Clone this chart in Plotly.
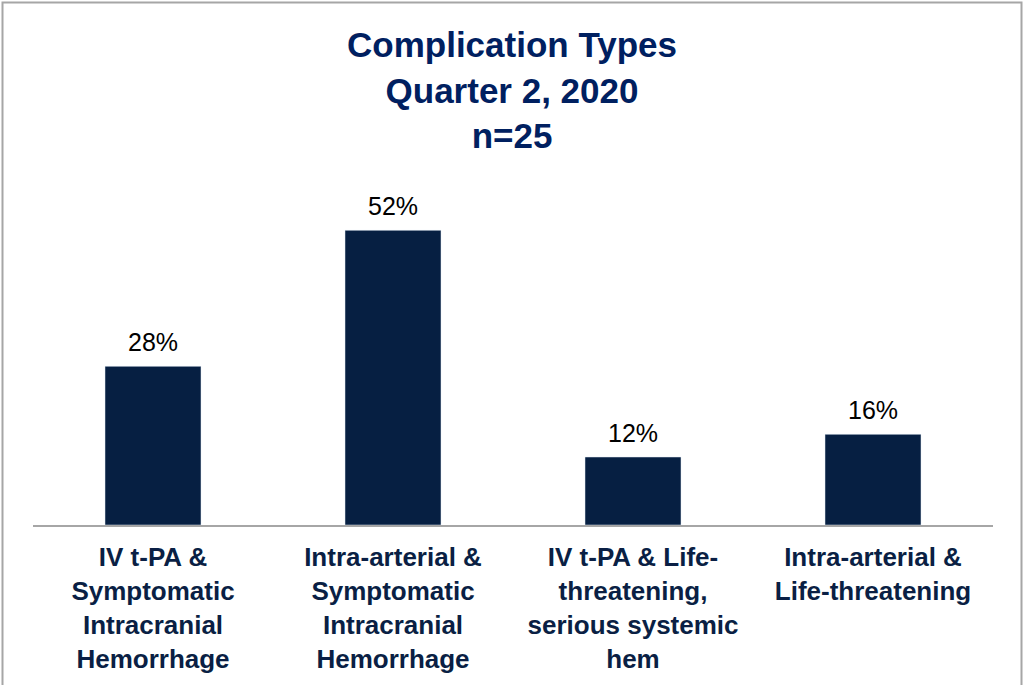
import plotly.graph_objects as go

categories = [
    "IV t-PA &<br>Symptomatic<br>Intracranial<br>Hemorrhage",
    "Intra-arterial &<br>Symptomatic<br>Intracranial<br>Hemorrhage",
    "IV t-PA & Life-<br>threatening,<br>serious systemic<br>hem",
    "Intra-arterial &<br>Life-threatening",
]
values = [0.28, 0.52, 0.12, 0.16]
value_labels = ["28%", "52%", "12%", "16%"]
title_lines = ["Complication Types", "Quarter 2, 2020", "n=25"]

BAR = "#061f42"
TITLE = "#002060"
FONT = "Liberation Sans, Arial, sans-serif"

W, H = 1024, 685
ML, MR, MT, MB = 33, 31, 185, 160
plot_h = H - MT - MB
plot_w = W - ML - MR

fig = go.Figure(go.Bar(x=categories, y=values, marker_color=BAR, width=0.4,
                       hoverinfo="skip"))

for c, v, t in zip(categories, values, value_labels):
    fig.add_annotation(x=c, y=v, text=t, showarrow=False, yanchor="bottom",
                       yshift=8, font=dict(family=FONT, size=25, color="#000000"))

# outer border
def px_x(p):
    return (p - ML) / plot_w

def px_y(p):
    return (H - MB - p) / plot_h

fig.add_shape(type="rect", xref="paper", yref="paper",
              x0=px_x(2.5), x1=px_x(1021.5), y0=px_y(700), y1=px_y(2.5),
              line=dict(color="#a6a6a6", width=2), fillcolor="rgba(0,0,0,0)")

fig.update_layout(
    width=W, height=H,
    margin=dict(l=ML, r=MR, t=MT, b=MB),
    paper_bgcolor="white", plot_bgcolor="white",
    showlegend=False,
    title=dict(text="<br>".join(title_lines), x=0.5, xanchor="center",
               y=1 - 57 / H, yanchor="top",
               font=dict(family=FONT, size=35, color=TITLE, weight="bold")),
    xaxis=dict(showline=True, linecolor="#a6a6a6", linewidth=2, ticks="",
               tickfont=dict(family=FONT, size=26, color="#0a1f44", weight="bold"),
               ticklabelstandoff=8, fixedrange=True),
    yaxis=dict(visible=False, range=[0, 0.60], fixedrange=True),
    bargap=0.6,
)

fig.write_html("out.html", post_script="document.body.style.margin='0';",
               config={"displayModeBar": False})
